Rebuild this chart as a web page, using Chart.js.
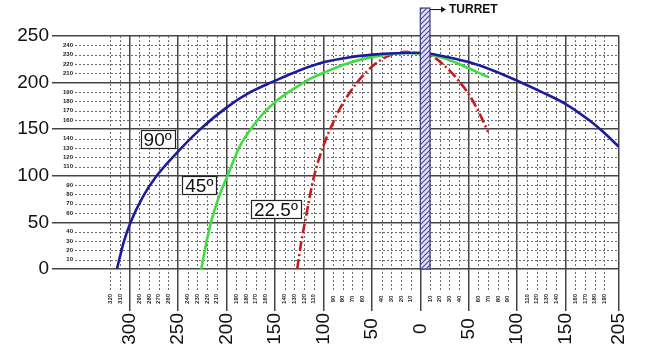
<!DOCTYPE html>
<html>
<head>
<meta charset="utf-8">
<script src="https://cdn.jsdelivr.net/npm/chart.js@4"></script>
<style>
  html, body { margin: 0; background: #fff; }
  #wrap { width: 650px; height: 352px; }
</style>
</head>
<body>
<div id="wrap"><canvas id="rangeChart"></canvas></div>
<script>
// distance axis: left of the turret is shown as negative values, labelled as absolute
const xMajorTicks = [-300, -250, -200, -150, -100, -50, 0, 50, 100, 150, 205];
const yMajorTicks = [0, 50, 100, 150, 200, 250];
const xMinorTicks = [-320, -310, -290, -280, -270, -260, -240, -230, -220, -210,
  -190, -180, -170, -160, -140, -130, -120, -110, -90, -80, -70, -60, -40, -30, -20, -10,
  10, 20, 30, 40, 60, 70, 80, 90, 110, 120, 130, 140, 160, 170, 180, 190];
const yMinorTicks = [10, 20, 30, 40, 60, 70, 80, 90, 110, 120, 130, 140,
  160, 170, 180, 190, 210, 220, 230, 240];

const deg90X = [-313, -306, -299, -286, -272, -250, -228, -199, -175, -152, -125, -99, -74, -49, -25, 0,
  10, 30, 50, 75, 100, 125, 150, 175, 190, 205];
const deg90Y = [0, 29, 50, 78, 100, 126, 149, 174, 190, 201, 213, 222, 227, 230, 231.5, 232,
  231, 227, 222, 213, 202, 190, 177, 159, 146, 131];

const deg45X = [-226, -221, -216, -208, -199, -187, -175, -162, -150, -137, -125, -112, -99, -77, -56, -35, -15, 0,
  10, 25, 40, 55, 70];
const deg45Y = [0, 27, 50, 77, 100, 130, 150, 167, 179, 189, 197, 205, 211, 220, 226, 230, 232, 231,
  230, 226, 220, 213, 206];

const deg22X = [-127, -123, -118, -110, -99, -90, -82, -66, -49, -32, -15, 0, 9, 23, 38, 51, 61, 70];
const deg22Y = [0, 28, 56, 98, 135, 157, 174, 199, 218, 229, 233, 231, 230, 220, 204, 186, 167, 147];

const angleNames = ['90º', '45º', '22.5º'];
const turretSpan = [0, 10];
const turretTop = 280;

function pts(xs, ys) {
  return xs.map((v, i) => ({ x: v, y: ys[i] }));
}

function hatch() {
  const c = document.createElement('canvas');
  c.width = 5; c.height = 5;
  const g = c.getContext('2d');
  g.fillStyle = '#e2e2f4';
  g.fillRect(0, 0, 5, 5);
  g.strokeStyle = '#4b4b9c';
  g.lineWidth = 1.2;
  g.beginPath();
  g.moveTo(-1, 6); g.lineTo(6, -1);
  g.moveTo(-1, 1); g.lineTo(1, -1);
  g.moveTo(4, 6); g.lineTo(6, 4);
  g.stroke();
  return g.createPattern(c, 'repeat');
}

const extras = {
  id: 'extras',
  beforeDatasetsDraw(chart) {
    const { ctx, chartArea: a, scales: { x, y } } = chart;
    ctx.save();
    ctx.strokeStyle = '#6a6a6a';
    ctx.lineWidth = 1;
    ctx.setLineDash([2, 2]);
    const yEnd = y.getPixelForValue(-23);
    xMinorTicks.forEach(v => {
      const px = Math.round(x.getPixelForValue(v)) + 0.5;
      ctx.beginPath();
      ctx.moveTo(px, a.top);
      ctx.lineTo(px, yEnd);
      ctx.stroke();
    });
    yMinorTicks.forEach(v => {
      const py = Math.round(y.getPixelForValue(v)) + 0.5;
      ctx.beginPath();
      ctx.moveTo(a.left + 23, py);
      ctx.lineTo(a.right, py);
      ctx.stroke();
    });
    ctx.setLineDash([]);
    ctx.fillStyle = '#222';
    ctx.font = 'bold 6px "Liberation Sans"';
    ctx.textAlign = 'right';
    ctx.textBaseline = 'middle';
    yMinorTicks.forEach(v => ctx.fillText(String(v), a.left + 21, y.getPixelForValue(v)));
    ctx.textAlign = 'center';
    const ly = y.getPixelForValue(-32);
    xMinorTicks.forEach(v => {
      ctx.save();
      ctx.translate(x.getPixelForValue(v), ly);
      ctx.rotate(-Math.PI / 2);
      ctx.fillText(String(Math.abs(v)), 0, 0);
      ctx.restore();
    });
    ctx.restore();
  },
  afterDatasetsDraw(chart) {
    const { ctx, scales: { x, y } } = chart;
    ctx.save();
    // turret
    const x0 = x.getPixelForValue(turretSpan[0]);
    const x1 = x.getPixelForValue(turretSpan[1]);
    const yTop = y.getPixelForValue(turretTop);
    const yBot = y.getPixelForValue(0);
    ctx.fillStyle = hatch();
    ctx.fillRect(x0, yTop, x1 - x0, yBot - yTop);
    ctx.strokeStyle = '#3d3d7e';
    ctx.lineWidth = 1.2;
    ctx.strokeRect(x0, yTop, x1 - x0, yBot - yTop);

    // arrow + caption
    const ay = yTop + 1.5;
    ctx.strokeStyle = '#111';
    ctx.lineWidth = 1;
    ctx.beginPath();
    ctx.moveTo(x1, ay);
    ctx.lineTo(x1 + 14, ay);
    ctx.stroke();
    ctx.fillStyle = '#111';
    ctx.beginPath();
    ctx.moveTo(x1 + 16, ay);
    ctx.lineTo(x1 + 11, ay - 3);
    ctx.lineTo(x1 + 11, ay + 3);
    ctx.closePath();
    ctx.fill();
    ctx.font = 'bold 12px "Liberation Sans"';
    ctx.textAlign = 'left';
    ctx.textBaseline = 'middle';
    ctx.fillText('TURRET', x1 + 19, ay + 0.5);

    // boxed angle labels
    const spots = [[-271, 140], [-228, 90], [-149, 64]];
    ctx.font = '19px "Liberation Sans"';
    ctx.textAlign = 'center';
    ctx.textBaseline = 'alphabetic';
    angleNames.forEach((t, i) => {
      const cx = x.getPixelForValue(spots[i][0]);
      const cy = y.getPixelForValue(spots[i][1]);
      const w = ctx.measureText(t).width + 6;
      const h = 18;
      ctx.fillStyle = '#fff';
      ctx.fillRect(cx - w / 2, cy - h / 2, w, h);
      ctx.strokeStyle = '#222';
      ctx.lineWidth = 1.2;
      ctx.strokeRect(Math.round(cx - w / 2) + 0.5, Math.round(cy - h / 2) + 0.5, Math.round(w), h);
      ctx.fillStyle = '#111';
      ctx.fillText(t, cx, cy + 7);
    });
    ctx.restore();
  }
};

const tickFont = { family: '"Liberation Sans"', size: 19 };

new Chart(document.getElementById('rangeChart'), {
  type: 'scatter',
  data: {
    datasets: [
      {
        data: pts(deg90X, deg90Y),
        showLine: true,
        borderColor: '#1c1c9c',
        borderWidth: 2.6,
        pointRadius: 0,
        cubicInterpolationMode: 'monotone'
      },
      {
        data: pts(deg45X, deg45Y),
        showLine: true,
        borderColor: '#40dc40',
        borderWidth: 2.6,
        pointRadius: 0,
        cubicInterpolationMode: 'monotone'
      },
      {
        data: pts(deg22X, deg22Y),
        showLine: true,
        borderColor: '#c81c1c',
        borderWidth: 2.6,
        borderDash: [10, 3, 2, 3],
        pointRadius: 0,
        cubicInterpolationMode: 'monotone'
      }
    ]
  },
  options: {
    responsive: true,
    maintainAspectRatio: false,
    animation: false,
    events: [],
    layout: { padding: { top: 36, right: 31, bottom: 0, left: 0 } },
    plugins: {
      legend: { display: false },
      tooltip: { enabled: false }
    },
    scales: {
      x: {
        type: 'linear',
        min: -380,
        max: 205,
        afterBuildTicks: s => { s.ticks = xMajorTicks.map(v => ({ value: v })); },
        afterFit: s => { s.height = 41; },
        grid: { color: '#444', lineWidth: 1.5, drawTicks: false },
        border: { display: false },
        ticks: {
          autoSkip: false,
          minRotation: 90,
          maxRotation: 90,
          padding: 2,
          color: '#111',
          font: tickFont,
          callback: v => {
            const s = String(Math.abs(v));
            return s + ' '.repeat(3 - s.length);
          }
        }
      },
      y: {
        min: -45,
        max: 250,
        afterBuildTicks: s => { s.ticks = yMajorTicks.map(v => ({ value: v })); },
        afterFit: s => { s.width = 52; },
        grid: { color: '#444', lineWidth: 1.5, drawTicks: false },
        border: { display: false },
        ticks: {
          padding: 3,
          color: '#111',
          font: tickFont
        }
      }
    }
  },
  plugins: [extras]
});
</script>
</body>
</html>
